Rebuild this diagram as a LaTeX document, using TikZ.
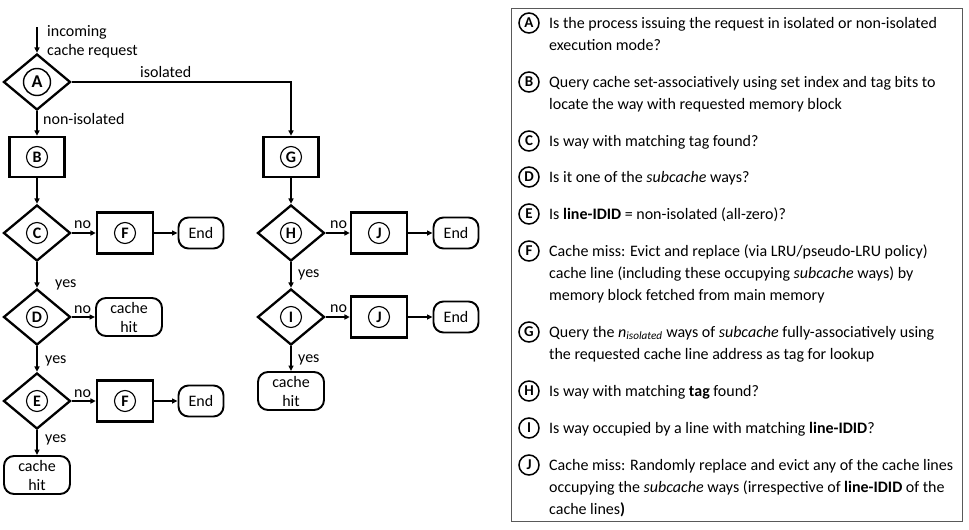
\documentclass[tikz,border=0pt]{standalone}
\usepackage{fontspec}
\setmainfont{Carlito}
\usetikzlibrary{shapes.geometric,arrows.meta}
\begin{document}
\begin{tikzpicture}[x=1pt,y=-1pt,
  font=\fontsize{16}{22}\selectfont,
  dia/.style={diamond,draw,line width=2.3pt,minimum width=67pt,minimum height=56pt,inner sep=0pt},
  box/.style={rectangle,draw,line width=2.3pt,minimum width=55pt,minimum height=40pt,inner sep=0pt},
  term/.style={rectangle,rounded corners=10pt,draw,line width=1.9pt,minimum width=45pt,minimum height=31pt,inner sep=0pt},
  hit/.style={term,minimum width=66pt,minimum height=38pt,align=center,font=\fontsize{16}{19}\selectfont},
  cl/.style={circle,draw,line width=1.1pt,minimum size=21pt,inner sep=0pt,font=\fontsize{16}{16}\selectfont\bfseries},
  lc/.style={circle,draw,line width=1.5pt,minimum size=20pt,inner sep=0pt,font=\fontsize{15}{15}\selectfont\bfseries},
  arr/.style={line width=1.8pt,-{Triangle[length=5.5pt,width=5pt]}},
  lab/.style={inner sep=0pt,anchor=base west},
  lt/.style={inner sep=0pt,anchor=base west}
]
\useasboundingbox (0,0) rectangle (969,530);

% ---- left flowchart ----
\node[dia] (A) at (37,82) {};
\node[cl,minimum size=27pt,line width=1.4pt,font=\fontsize{18}{18}\selectfont\bfseries] at (A) {A};
\node[box] (B) at (37,157) {};
\node[cl] at (B) {B};
\node[dia] (C) at (37,233) {};
\node[cl] at (C) {C};
\node[dia] (D) at (37,317) {};
\node[cl] at (D) {D};
\node[dia] (E) at (37,401) {};
\node[cl] at (E) {E};
\node[hit] (hit1) at (37,475) {cache\\hit};
\node[box,minimum width=56pt,minimum height=41pt] (F1) at (125,233) {};
\node[cl] at (F1) {F};
\node[term] (End1) at (201,233) {End};
\node[hit] (hit2) at (129,317) {cache\\hit};
\node[box,minimum width=56pt,minimum height=41pt] (F2) at (125,401) {};
\node[cl] at (F2) {F};
\node[term] (End2) at (201,401) {End};

% ---- right flowchart ----
\node[box] (G) at (291,157) {};
\node[cl] at (G) {G};
\node[dia] (H) at (291,233) {};
\node[cl] at (H) {H};
\node[dia] (I) at (291,317) {};
\node[cl] at (I) {I};
\node[hit] (hit3) at (291,391) {cache\\hit};
\node[box,minimum width=56pt,minimum height=41pt] (J1) at (379,233) {};
\node[cl] at (J1) {J};
\node[term] (End3) at (456,233) {End};
\node[box,minimum width=56pt,minimum height=41pt] (J2) at (379,317) {};
\node[cl] at (J2) {J};
\node[term] (End4) at (456,317) {End};

% ---- connectors ----
\coordinate (in) at (37,27);
\draw[arr] (in) -- (A.north);
\draw[arr] (A.south) -- (B.north);
\draw[arr] (A.east) -| (G.north);
\draw[arr] (B.south) -- (C.north);
\draw[arr] (C.east) -- (F1.west);
\draw[arr] (F1.east) -- (End1.west);
\draw[arr] (C.south) -- (D.north);
\draw[arr] (D.east) -- (hit2.west);
\draw[arr] (D.south) -- (E.north);
\draw[arr] (E.east) -- (F2.west);
\draw[arr] (F2.east) -- (End2.west);
\draw[arr] (E.south) -- (hit1.north);
\draw[arr] (G.south) -- (H.north);
\draw[arr] (H.east) -- (J1.west);
\draw[arr] (J1.east) -- (End3.west);
\draw[arr] (H.south) -- (I.north);
\draw[arr] (I.east) -- (J2.west);
\draw[arr] (J2.east) -- (End4.west);
\draw[arr] (I.south) -- (hit3.north);

% ---- connector labels ----
\node[lab] (l1) at (47,36) {incoming};
\node[lab] (l2) at (47,55) {cache request};
\node[lab] (l3) at (140,77) {isolated};
\node[lab] (l4) at (43,124) {non-isolated};
\node[lab] (n1) at (74,228) {no};
\node[lab] (n2) at (74,313) {no};
\node[lab] (n3) at (74,397) {no};
\node[lab] (n4) at (330,228) {no};
\node[lab] (n5) at (330,312) {no};
\node[lab] (y1) at (55,287) {yes};
\node[lab] (y2) at (45,363) {yes};
\node[lab] (y3) at (45,442) {yes};
\node[lab] (y4) at (298,277) {yes};
\node[lab] (y5) at (298,362) {yes};

% ---- legend ----
\draw[draw=black!65,line width=0.8pt] (511,8) rectangle (962,521);
\node[lc] (kA) at (529,23) {A};
\node[lt] at (549,28) {Is the process issuing the request in isolated or non-isolated};
\node[lt] at (549,50) {execution mode?};
\node[lc] (kB) at (529,82) {B};
\node[lt] at (549,87) {Query cache set-associatively using set index and tag bits to};
\node[lt] at (549,109) {locate the way with requested memory block};
\node[lc] (kC) at (529,141) {C};
\node[lt] at (549,146) {Is way with matching tag found?};
\node[lc] (kD) at (529,177) {D};
\node[lt] at (549,182) {Is it one of the \textit{subcache} ways?};
\node[lc] (kE) at (529,214) {E};
\node[lt] at (549,219) {Is \textbf{line-IDID} = non-isolated (all-zero)?};
\node[lc] (kF) at (529,251) {F};
\node[lt] at (549,256) {Cache miss: Evict and replace (via LRU/pseudo-LRU policy)};
\node[lt] at (549,278) {cache line (including these occupying \textit{subcache} ways) by};
\node[lt] at (549,300) {memory block fetched from main memory};
\node[lc] (kG) at (529,332) {G};
\node[lt] at (549,337) {Query the \textit{n}\textsubscript{\textit{isolated}} ways of \textit{subcache} fully-associatively using};
\node[lt] at (549,359) {the requested cache line address as tag for lookup};
\node[lc] (kH) at (529,391) {H};
\node[lt] at (549,396) {Is way with matching \textbf{tag} found?};
\node[lc] (kI) at (529,428) {I};
\node[lt] at (549,433) {Is way occupied by a line with matching \textbf{line-IDID}?};
\node[lc] (kJ) at (529,465) {J};
\node[lt] at (549,470) {Cache miss: Randomly replace and evict any of the cache lines};
\node[lt] at (549,492) {occupying the \textit{subcache} ways (irrespective of \textbf{line-IDID} of the};
\node[lt] at (549,514) {cache lines\textbf{)}};
\end{tikzpicture}
\end{document}
